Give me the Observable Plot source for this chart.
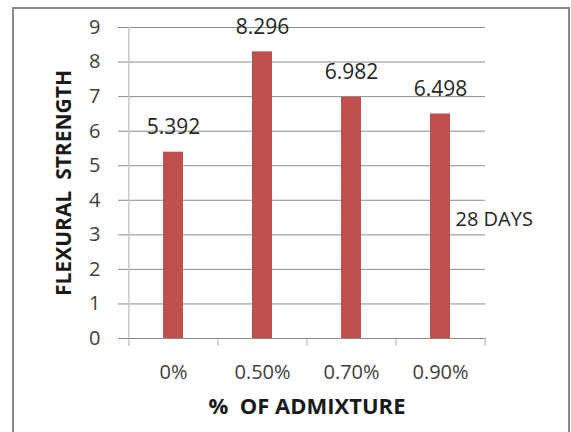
<!DOCTYPE html>
<html><head><meta charset="utf-8">
<script src="https://cdn.jsdelivr.net/npm/d3@7"></script>
<script src="https://cdn.jsdelivr.net/npm/@observablehq/plot@0.6"></script>
<style>
body{margin:0;background:#fff;}
#wrap{position:relative;width:571px;height:432px;overflow:hidden;background:#fff;}
#border{position:absolute;left:12px;top:7px;width:558px;height:440px;border:2px solid #8a8a8a;box-sizing:border-box;}
#chart{position:absolute;left:0;top:0;}
svg text{white-space:pre;}
</style></head><body><div id="wrap"><div id="border"></div><div id="chart"></div></div>
<script>
const categories = ["0%", "0.50%", "0.70%", "0.90%"];
const values = [5.392, 8.296, 6.982, 6.498];
const yTicks = [0, 1, 2, 3, 4, 5, 6, 7, 8, 9];
const seriesName = "28 DAYS";
const xTitle = "%  OF ADMIXTURE";
const yTitle = "FLEXURAL  STRENGTH";

const data = categories.map((c, i) => ({cat: c, value: values[i]}));
const W = 571, H = 432, ml = 128, mr = 86, mt = 27, mb = 94;
const step = (W - ml - mr) / categories.length;

const chart = Plot.plot({
  width: W, height: H,
  marginLeft: ml, marginRight: mr, marginTop: mt, marginBottom: mb,
  style: {fontFamily: "'Open Sans', sans-serif", background: "transparent", overflow: "visible"},
  x: {domain: categories, paddingInner: 0.775, paddingOuter: 0.3875},
  y: {domain: [0, 9]},
  marks: [
    Plot.gridY(yTicks, {stroke: "#8c8c8c", strokeOpacity: 1}),
    Plot.axisY(yTicks, {tickSize: 10, tickPadding: 18, stroke: "#8c8c8c", fill: "#404040", fontSize: 20, label: null}),
    Plot.ruleX(categories, {x: d => d, y1: -0.23, y2: d => d === categories[0] ? 9 : 0, dx: -step / 2, stroke: "#c8c8c8", strokeWidth: 1.5}),
    Plot.ruleX([categories[categories.length - 1]], {x: d => d, y1: -0.23, y2: 0, dx: step / 2, stroke: "#c8c8c8", strokeWidth: 1.5}),
    Plot.ruleY([0], {stroke: "#8c8c8c"}),
    Plot.barY(data, {x: "cat", y: "value", fill: "#C0504D"}),
    Plot.text(data, {x: "cat", y: "value", text: d => String(d.value), dy: -25, fontSize: 21, fill: "#262626"}),
    Plot.axisX({tickSize: 0, tickPadding: 26, fontSize: 20, fill: "#404040", label: null}),
    Plot.text([xTitle], {frameAnchor: "bottom", dy: 75, fontSize: 22, fontWeight: "bold", fill: "#1a1a1a"}),
    Plot.text([yTitle], {frameAnchor: "left", dx: -64, rotate: -90, textAnchor: "middle", fontSize: 21, fontWeight: "bold", fill: "#1a1a1a"}),
    Plot.text([seriesName], {frameAnchor: "right", dx: -30, dy: 37, textAnchor: "start", fontSize: 20, fill: "#262626"})
  ]
});
document.getElementById("chart").appendChild(chart);
</script>
</body></html>
